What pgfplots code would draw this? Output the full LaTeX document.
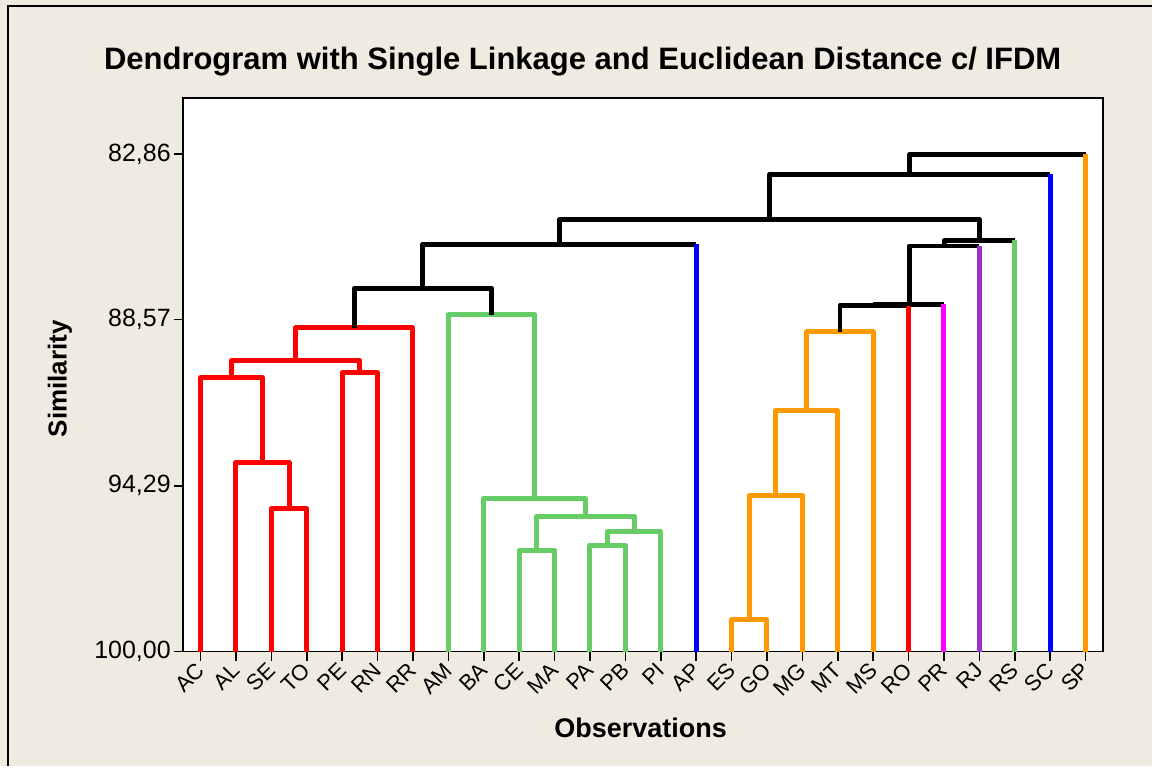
\documentclass[border=0pt]{standalone}
\usepackage{fontspec}
\setmainfont{Liberation Sans}
\usepackage{pgfplots}
\pgfplotsset{compat=1.18}
\definecolor{bg}{RGB}{239,235,225}
\definecolor{cred}{RGB}{255,0,0}
\definecolor{cblue}{RGB}{0,0,255}
\definecolor{cmag}{RGB}{255,0,255}
\definecolor{cgreen}{RGB}{102,204,102}
\definecolor{corange}{RGB}{255,153,0}
\definecolor{cpurple}{RGB}{153,51,204}
\begin{document}
\begin{tikzpicture}[x=1pt,y=1pt]
\fill[bg] (0,0) rectangle (1153,767);
\draw[line width=1.5pt] (8,0) -- (8,761) -- (1153,761);
\node[font=\bfseries\fontsize{31}{36}\selectfont] at (583,705) {Dendrogram with Single Linkage and Euclidean Distance c/ IFDM};
\node[font=\bfseries\fontsize{27}{32}\selectfont] at (641,39) {Observations};
\node[font=\bfseries\fontsize{26}{30}\selectfont, rotate=90] at (60,388) {Similarity};
\begin{axis}[at={(183pt,115pt)}, anchor=south west, scale only axis,
  width=921pt, height=554pt,
  xmin=-0.5, xmax=25.5, ymin=80.93, ymax=100, y dir=reverse,
  axis background/.style={fill=white},
  axis line style={line width=1.8pt},
  xtick={0,...,25},
  xticklabels={AC,AL,SE,TO,PE,RN,RR,AM,BA,CE,MA,PA,PB,PI,AP,ES,GO,MG,MT,MS,RO,PR,RJ,RS,SC,SP},
  ytick={82.86,88.57,94.29,100},
  yticklabels={{82,86},{88,57},{94,29},{100,00}},
  tick align=outside, xtick pos=left, ytick pos=left,
  major tick length=9pt,
  tick style={line width=1.5pt, black},
  xticklabel shift=6pt,
  xticklabel style={rotate=45, anchor=east, font=\fontsize{22}{24}\selectfont, inner sep=0pt},
  yticklabel style={font=\fontsize{25}{29}\selectfont, inner sep=3pt},
  dl/.style={line width=5pt, line join=round, mark=none},
]
% red cluster
\addplot[dl, cred] coordinates {(2,100) (2,95.07) (3,95.07) (3,100)};
\addplot[dl, cred] coordinates {(1,100) (1,93.49) (2.5,93.49) (2.5,95.07)};
\addplot[dl, cred] coordinates {(0,100) (0,90.57) (1.75,90.57) (1.75,93.49)};
\addplot[dl, cred] coordinates {(4,100) (4,90.39) (5,90.39) (5,100)};
\addplot[dl, cred] coordinates {(0.875,90.57) (0.875,89.97) (4.5,89.97) (4.5,90.39)};
\addplot[dl, cred] coordinates {(2.6875,89.97) (2.6875,88.85) (6,88.85) (6,100)};
% green cluster
\addplot[dl, cgreen] coordinates {(9,100) (9,96.53) (10,96.53) (10,100)};
\addplot[dl, cgreen] coordinates {(11,100) (11,96.35) (12,96.35) (12,100)};
\addplot[dl, cgreen] coordinates {(11.5,96.35) (11.5,95.87) (13,95.87) (13,100)};
\addplot[dl, cgreen] coordinates {(9.5,96.53) (9.5,95.35) (12.25,95.35) (12.25,95.87)};
\addplot[dl, cgreen] coordinates {(8,100) (8,94.73) (10.875,94.73) (10.875,95.35)};
\addplot[dl, cgreen] coordinates {(7,100) (7,88.39) (9.4375,88.39) (9.4375,94.73)};
% black links left
\addplot[dl, black] coordinates {(4.34375,88.85) (4.34375,87.48) (8.21875,87.48) (8.21875,88.39)};
\addplot[dl, black] coordinates {(6.28125,87.48) (6.28125,85.97) (14,85.97)};
\addplot[dl, cblue] coordinates {(14,100) (14,85.97)};
% orange cluster
\addplot[dl, corange] coordinates {(15,100) (15,98.90) (16,98.90) (16,100)};
\addplot[dl, corange] coordinates {(15.5,98.90) (15.5,94.63) (17,94.63) (17,100)};
\addplot[dl, corange] coordinates {(16.25,94.63) (16.25,91.70) (18,91.70) (18,100)};
\addplot[dl, corange] coordinates {(17.125,91.70) (17.125,88.99) (19,88.99) (19,100)};
% black links right
\addplot[dl, black] coordinates {(18.0625,88.99) (18.0625,88.08) (20,88.08)};
\addplot[dl, black] coordinates {(19.03125,88.08) (19.03125,88.03) (21,88.03)};
\addplot[dl, black] coordinates {(20.015625,88.03) (20.015625,86.03) (22,86.03)};
\addplot[dl, black] coordinates {(21.0078,86.03) (21.0078,85.84) (23,85.84)};
\addplot[dl, black] coordinates {(10.140625,85.97) (10.140625,85.13) (22.0039,85.13) (22.0039,85.84)};
\addplot[dl, black] coordinates {(16.072,85.13) (16.072,83.56) (24,83.56)};
\addplot[dl, black] coordinates {(20.036,83.56) (20.036,82.87) (25,82.87)};
% singletons
\addplot[dl, cred] coordinates {(20,100) (20,88.08)};
\addplot[dl, cmag] coordinates {(21,100) (21,88.03)};
\addplot[dl, cpurple] coordinates {(22,100) (22,86.03)};
\addplot[dl, cgreen] coordinates {(23,100) (23,85.84)};
\addplot[dl, cblue] coordinates {(24,100) (24,83.56)};
\addplot[dl, corange] coordinates {(25,100) (25,82.87)};
\end{axis}
\end{tikzpicture}
\end{document}
